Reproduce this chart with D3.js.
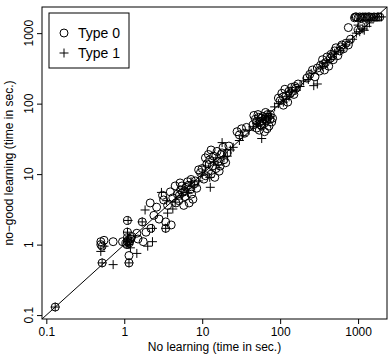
<!DOCTYPE html>
<html>
<head>
<meta charset="utf-8">
<script src="https://cdn.jsdelivr.net/npm/d3@7"></script>
<style>
  body { margin: 0; background: #fff; }
  svg { font-family: "Liberation Sans", Arial, Helvetica, sans-serif; }
</style>
</head>
<body>
<div id="chart"></div>
<script>
// [no learning, no-good learning] times in seconds
const type0 = [
  [0.13, 0.13],
  [0.52, 0.55], [0.5, 1.1], [0.52, 0.95], [0.55, 1.15], [0.72, 1.1], [0.5, 1.0],
  [1.1, 2.2], [1.1, 1.5], [1.15, 0.7], [1.15, 0.55], [0.95, 1.1], [1.05, 1.05], [1.1, 1.1],
  [1.12, 1.15], [1.15, 1.05], [1.2, 1.2], [1.08, 1.0], [1.18, 1.12], [1.1, 1.25], [1.25, 1.3],
  [1.5, 1.2], [1.7, 2.1], [1.9, 1.5], [1.75, 1.1], [2.2, 1.7], [2.15, 3.9], [2.6, 3.4],
  [3.4, 2.1], [4, 1.9], [3.4, 1.7], [3.6, 3.6], [3.1, 5], [3.2, 4.3], [2.4, 2.6], [2.8, 2.3], [1.45, 1.45],
  [4.8, 5.2], [5, 4.2], [5.3, 6], [5.6, 5.5], [6, 4.8], [6.2, 6.5], [6.5, 7.8], [7, 6], [7.3, 5.2],
  [7.8, 7.2], [8.2, 8], [5.8, 3.6], [6.8, 3.9], [4.5, 6.8], [5.2, 7.5], [7.6, 4.4], [8.5, 6.3], [6, 5.8],
  [4.2, 4.6], [5.5, 6.8], [6.6, 6.9], [7.2, 8.4], [4.6, 3.9], [3.9, 5.6], [5.1, 5.0],
  [9.5, 10.5], [10, 12], [11, 9.5], [11.5, 14], [12, 11], [12.5, 16], [13, 10], [13.5, 13], [14, 18],
  [15, 12], [15.5, 21], [16, 15], [17, 13], [17.5, 19], [18.5, 24], [19, 16], [20, 14.5], [21, 20],
  [22, 25], [14.5, 9], [10.5, 8.5], [9, 11.5], [16.5, 11], [12, 19], [11, 17], [13, 22], [18, 20],
  [28, 40], [30, 36], [32, 44], [35, 38], [37, 46],
  [45, 50], [48, 60], [50, 45], [52, 70], [55, 55], [57, 62], [58, 48], [60, 66], [62, 52], [65, 75],
  [67, 58], [70, 64], [72, 48], [75, 70], [78, 55], [80, 62], [54, 42], [63, 40], [68, 44], [46, 68],
  [50, 56], [53, 64], [59, 57], [64, 61], [69, 70], [56, 50], [74, 60],
  [95, 120], [100, 110], [105, 140], [110, 125], [115, 160], [120, 130], [130, 150], [140, 170],
  [150, 135], [160, 165], [170, 190], [125, 105], [110, 95], [135, 140], [145, 150], [155, 175],
  [220, 230], [240, 260], [260, 300], [280, 240], [300, 320], [330, 350], [350, 420], [380, 380],
  [400, 460], [420, 340], [450, 500], [480, 420], [500, 560], [550, 480], [600, 640], [650, 600],
  [700, 720], [750, 680], [800, 820], [370, 300], [520, 620], [320, 290], [360, 360], [440, 440],
  [470, 480], [580, 560], [620, 680],
  [750, 1200], [900, 1650], [950, 1700], [1000, 1650], [1050, 1700], [1100, 1650], [1150, 1700],
  [1200, 1680], [1300, 1650], [1400, 1700], [1500, 1680], [1600, 1700], [1700, 1680], [1800, 1700],
  [1900, 1690], [1000, 1100], [1100, 1250], [920, 1700], [1250, 1700], [1350, 1700]
];

const type1 = [
  [0.13, 0.13], [0.52, 0.55], [0.5, 0.8], [0.72, 0.52], [0.55, 0.95], [1.12, 2.2], [1.1, 1.5],
  [1.45, 0.75], [1.15, 0.55], [1.1, 1.1], [1.15, 1.0], [1.2, 0.9], [1.7, 2.1], [2, 0.95], [2.3, 1.1],
  [2.3, 1.7], [1.85, 3.1], [3.4, 1.7], [3.6, 2.8], [3.5, 4.2], [3.0, 5.5], [4.5, 4], [5.5, 5],
  [6.5, 5.5], [7.2, 7.8], [8, 6.8], [9, 8], [4.2, 3.2], [12.7, 6.5], [10, 10], [11, 13], [12.5, 9],
  [14, 15], [16, 13.5], [18, 28], [19, 17], [21, 18], [23, 22], [15, 17], [25, 24], [30, 30],
  [33, 35], [40, 42], [45, 47], [50, 52], [58, 32], [60, 58], [65, 60], [70, 72], [75, 65], [85, 90],
  [95, 100], [110, 105], [120, 115], [130, 125], [140, 150], [160, 155], [180, 175], [200, 210],
  [230, 220], [270, 180], [300, 190], [250, 270], [350, 340], [400, 380], [450, 420], [500, 520],
  [600, 560], [700, 680], [850, 820], [950, 1000], [1050, 1050], [1150, 1150], [1300, 1250],
  [1400, 1400], [1000, 1300], [1200, 1100], [1600, 1650], [1800, 1700], [2000, 1700]
];

const tickValues = [0.1, 1, 10, 100, 1000];
const tickLabels = ["0.1", "1", "10", "100", "1000"];
const legendLabels = ["Type 0", "Type 1"];

const width = 391, height = 357;
const box = { left: 42, right: 387, top: 7, bottom: 319 };
const domain = [0.088, 2350];
const crossPath = "M-4.5,0H4.5M0,-4.5V4.5";

const svg = d3.select("#chart").append("svg")
  .attr("width", width)
  .attr("height", height);

const x = d3.scaleLog().domain(domain).range([box.left, box.right]);
const y = d3.scaleLog().domain(domain).range([box.bottom, box.top]);

svg.append("clipPath").attr("id", "clip")
  .append("rect")
  .attr("x", box.left).attr("y", box.top)
  .attr("width", box.right - box.left).attr("height", box.bottom - box.top);

// y = x reference line
svg.append("line")
  .attr("clip-path", "url(#clip)")
  .attr("x1", x(domain[0])).attr("y1", y(domain[0]))
  .attr("x2", x(domain[1])).attr("y2", y(domain[1]))
  .attr("stroke", "#000").attr("stroke-width", 1);

const plot = svg.append("g");

plot.selectAll("circle.t0")
  .data(type0)
  .enter()
  .append("circle")
  .attr("class", "t0")
  .attr("cx", d => x(d[0]))
  .attr("cy", d => y(d[1]))
  .attr("r", 4)
  .attr("fill", "none")
  .attr("stroke", "#000")
  .attr("stroke-width", 1);

plot.selectAll("path.t1")
  .data(type1)
  .enter()
  .append("path")
  .attr("class", "t1")
  .attr("d", crossPath)
  .attr("transform", d => `translate(${x(d[0])},${y(d[1])})`)
  .attr("fill", "none")
  .attr("stroke", "#000")
  .attr("stroke-width", 1);

// axes
const xAxis = d3.axisBottom(x).tickValues(tickValues).tickSize(5).tickPadding(3)
  .tickFormat((d, i) => tickLabels[i]);
const gx = svg.append("g")
  .attr("transform", `translate(0,${box.bottom})`)
  .call(xAxis);
gx.select(".domain").remove();
gx.selectAll("text").attr("font-size", 12).attr("fill", "#000")
  .attr("font-family", "Liberation Sans, Arial, sans-serif");

const yAxis = d3.axisLeft(y).tickValues(tickValues).tickSize(5).tickFormat(() => "");
const gy = svg.append("g")
  .attr("transform", `translate(${box.left},0)`)
  .call(yAxis);
gy.select(".domain").remove();

svg.append("g").selectAll("text")
  .data(tickValues)
  .enter()
  .append("text")
  .attr("transform", (d) => `translate(33,${y(d)}) rotate(-90)`)
  .attr("text-anchor", "middle")
  .attr("font-size", 12)
  .text((d, i) => tickLabels[i]);

// plot box
svg.append("rect")
  .attr("x", box.left).attr("y", box.top)
  .attr("width", box.right - box.left).attr("height", box.bottom - box.top)
  .attr("fill", "none").attr("stroke", "#000").attr("stroke-width", 1);

// axis titles
svg.append("text")
  .attr("x", (box.left + box.right) / 2)
  .attr("y", 351)
  .attr("text-anchor", "middle")
  .attr("font-size", 12)
  .text("No learning (time in sec.)");

svg.append("text")
  .attr("transform", `translate(13,${(box.top + box.bottom) / 2}) rotate(-90)`)
  .attr("text-anchor", "middle")
  .attr("font-size", 12)
  .text("no\u2212good learning (time in sec.)");

// legend
const legend = svg.append("g");
legend.append("rect")
  .attr("x", 49).attr("y", 13)
  .attr("width", 80).attr("height", 55)
  .attr("fill", "#fff").attr("stroke", "#000").attr("stroke-width", 1);

legendLabels.forEach((label, i) => {
  const cy = 33 + i * 20;
  if (i === 0) {
    legend.append("circle").attr("cx", 64).attr("cy", cy).attr("r", 4)
      .attr("fill", "none").attr("stroke", "#000");
  } else {
    legend.append("path").attr("d", crossPath)
      .attr("transform", `translate(64,${cy})`)
      .attr("fill", "none").attr("stroke", "#000");
  }
  legend.append("text")
    .attr("x", 78).attr("y", cy)
    .attr("dy", "0.35em")
    .attr("font-size", 14)
    .text(label);
});
</script>
</body>
</html>
